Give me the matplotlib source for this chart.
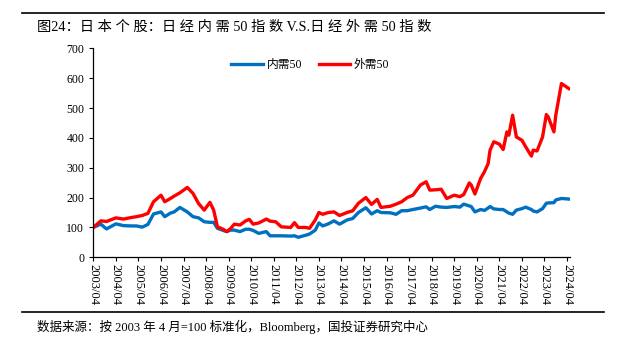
#!/usr/bin/env python3
"""Nikkei domestic-demand 50 vs external-demand 50 index (2003/04 = 100)."""

import matplotlib
matplotlib.use("Agg")
import matplotlib.pyplot as plt
import pandas as pd
from matplotlib.lines import Line2D

plt.rcParams["font.family"] = ["Liberation Serif", "Noto Sans CJK SC"]

# values
dates = [
    "2003-04", "2003-08", "2003-11", "2004-04", "2004-08", "2004-12", "2005-03",
    "2005-06", "2005-09", "2005-12", "2006-04", "2006-06", "2006-09", "2006-11",
    "2007-02", "2007-06", "2007-09", "2007-12", "2008-03", "2008-06", "2008-08",
    "2008-10", "2009-01", "2009-03", "2009-05", "2009-07", "2009-10", "2010-01",
    "2010-03", "2010-05", "2010-08", "2010-12", "2011-02", "2011-05", "2011-08",
    "2012-01", "2012-03", "2012-05", "2012-09", "2012-11", "2013-02", "2013-04",
    "2013-06", "2013-09", "2013-12", "2014-03", "2014-07", "2014-10", "2015-01",
    "2015-05", "2015-08", "2015-11", "2016-01", "2016-06", "2016-09", "2016-12",
    "2017-03", "2017-06", "2017-10", "2018-01", "2018-03", "2018-06", "2018-09",
    "2018-12", "2019-04", "2019-07", "2019-09", "2019-12", "2020-01", "2020-03",
    "2020-06", "2020-08", "2020-10", "2020-11", "2021-01", "2021-04", "2021-06",
    "2021-08", "2021-09", "2021-11", "2022-01", "2022-04", "2022-06", "2022-09",
    "2022-10", "2022-12", "2023-03", "2023-05", "2023-06", "2023-09", "2023-10",
    "2024-01", "2024-05",
]
domestic_50 = [
    100, 111, 95, 112, 106, 105, 105,
    101, 110, 145, 152, 136, 148, 152,
    167, 152, 136, 132, 119, 117, 117,
    97, 90, 86, 91, 91, 86, 94,
    94, 90, 80, 86, 72, 72, 72,
    71, 72, 67, 74, 78, 91, 115,
    105, 112, 122, 111, 125, 130, 150,
    166, 145, 156, 150, 149, 144, 156,
    156, 160, 165, 169, 160, 171, 168,
    167, 170, 168, 178, 172, 170, 152,
    160, 157, 165, 170, 162, 160, 160,
    152, 148, 144, 158, 163, 168, 160,
    155, 152, 163, 181, 182, 183, 192,
    197, 195,
]
external_50 = [
    100, 122, 120, 132, 128, 133, 136,
    140, 147, 186, 208, 186, 197, 205,
    216, 234, 214, 180, 158, 184, 158,
    102, 94, 86, 96, 111, 108, 122,
    127, 111, 115, 128, 121, 119, 102,
    100, 116, 100, 100, 97, 125, 150,
    144, 150, 152, 140, 150, 156, 181,
    200, 177, 194, 167, 171, 178, 186,
    200, 208, 242, 253, 225, 226, 228,
    197, 208, 203, 210, 249, 242, 212,
    264, 286, 314, 359, 387, 379, 361,
    420, 409, 476, 403, 392, 370, 339,
    359, 356, 403, 478, 470, 420, 476,
    582, 565,
]
tick_labels = [f"{y}/04" for y in range(2003, 2025)]

x = pd.to_datetime(dates)
blue = "#0070C0"
red = "#FF0000"

fig = plt.figure(figsize=(6.17, 3.49), dpi=100)
ax = fig.add_axes([0.1512, 0.2628, 0.7728, 0.5988])

ax.plot(x, domestic_50, color=blue, lw=2.4, solid_joinstyle="round")
ax.plot(x, external_50, color=red, lw=2.4, solid_joinstyle="round")

ax.set_ylim(0, 700)
ax.set_yticks(range(0, 701, 100))
ax.set_xlim(pd.Timestamp("2003-04-01"), pd.Timestamp("2024-05-20"))
ax.set_xticks(pd.to_datetime([f"{y}-04-01" for y in range(2003, 2025)]))
ax.set_xticklabels(tick_labels, rotation=270, fontsize=9)
ax.tick_params(axis="y", labelsize=8.5, direction="out", length=3, width=0.8)
ax.tick_params(axis="x", direction="out", length=3, width=0.8, pad=2)
for side in ("top", "right"):
    ax.spines[side].set_visible(False)
for side in ("left", "bottom"):
    ax.spines[side].set_linewidth(0.9)

handles = [Line2D([], [], color=blue, lw=2.4), Line2D([], [], color=red, lw=2.4)]
ax.legend(handles, ["内需50", "外需50"], loc="upper center",
          bbox_to_anchor=(0.455, 1.0), ncol=2, frameon=False, fontsize=8.5,
          handlelength=2.7, columnspacing=1.4, handletextpad=0.3)

# report-style header / footer
fig.add_artist(Line2D([0.036, 0.979], [1 - 13 / 349] * 2, color="black", lw=1.2))
fig.add_artist(Line2D([0.036, 0.979], [1 - 312 / 349] * 2, color="black", lw=1.2))
fig.text(0.060, 1 - 27 / 349,
         "图24：日 本 个 股：日 经 内 需 50 指 数 V.S.日 经 外 需 50 指 数",
         fontsize=10.3, va="center", ha="left")
fig.text(0.060, 1 - 327 / 349,
         "数据来源：按 2003 年 4 月=100 标准化，Bloomberg，国投证券研究中心",
         fontsize=9, va="center", ha="left")

fig.savefig("out.png", dpi=100)
